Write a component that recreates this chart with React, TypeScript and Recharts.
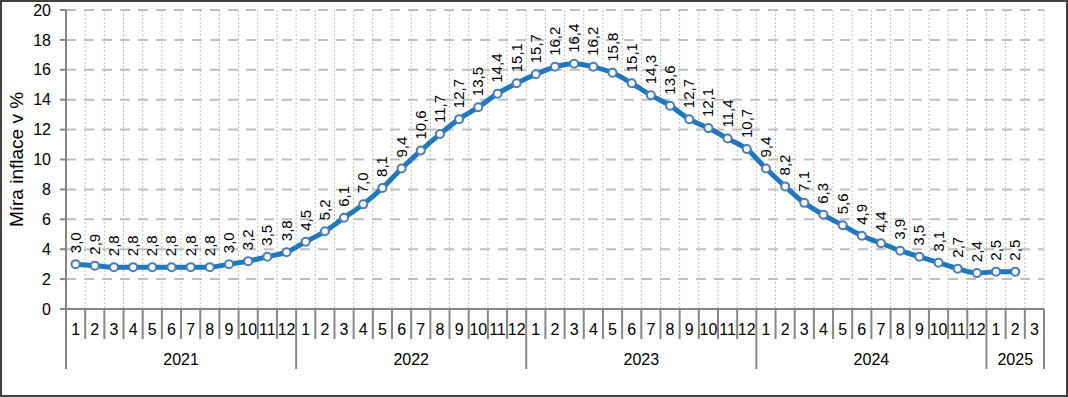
import React from 'react';
import {
    LineChart,
    Line,
    XAxis,
    YAxis,
    CartesianGrid,
    LabelList,
} from 'recharts';

const YEARS = ['2021', '2022', '2023', '2024', '2025'];
const MONTHS_IN_YEAR = [12, 12, 12, 12, 3];

const INFL_2021 = [3.0, 2.9, 2.8, 2.8, 2.8, 2.8, 2.8, 2.8, 3.0, 3.2, 3.5, 3.8];
const INFL_2022 = [4.5, 5.2, 6.1, 7.0, 8.1, 9.4, 10.6, 11.7, 12.7, 13.5, 14.4, 15.1];
const INFL_2023 = [15.7, 16.2, 16.4, 16.2, 15.8, 15.1, 14.3, 13.6, 12.7, 12.1, 11.4, 10.7];
const INFL_2024 = [9.4, 8.2, 7.1, 6.3, 5.6, 4.9, 4.4, 3.9, 3.5, 3.1, 2.7, 2.4];
const INFL_2025 = [2.5, 2.5, null];

const Y_TICKS = [0, 2, 4, 6, 8, 10, 12, 14, 16, 18, 20];

const SERIES = [INFL_2021, INFL_2022, INFL_2023, INFL_2024, INFL_2025];

type Row = {
    key: string;
    month: number;
    year: string;
    groupSize: number;
    value: number | null;
};

const rows: Row[] = YEARS.flatMap((year, yi) =>
    Array.from({ length: MONTHS_IN_YEAR[yi] }, (_, mi) => ({
        key: `${year}-${mi + 1}`,
        month: mi + 1,
        year,
        groupSize: MONTHS_IN_YEAR[yi],
        value: SERIES[yi][mi],
    }))
);

const CHART_W = 1064;
const CHART_H = 393;
const Y_AXIS_W = 64;
const RIGHT = 22;
const PLOT_W = CHART_W - Y_AXIS_W - RIGHT;
const BW = PLOT_W / rows.length;

const AXIS_GRAY = '#878787';
const GRID_GRAY = '#bfbfbf';
const FONT = '"Liberation Sans", Arial, sans-serif';

function MonthTick(props: any) {
    const { x, y, index } = props;
    const row = rows[index];
    if (!row) return null;
    const isLastOfGroup = row.month === row.groupSize;
    const right = x + BW / 2;
    const left = x - BW / 2;
    return (
        <g>
            <text x={x} y={y + 26} textAnchor="middle" fontSize={16} fill="#000" fontFamily={FONT}>
                {row.month}
            </text>
            <line
                x1={right}
                x2={right}
                y1={y}
                y2={y + (isLastOfGroup ? 60 : 30)}
                stroke={AXIS_GRAY}
                strokeWidth={2}
            />
            {row.month === 1 && (
                <>
                    {index === 0 && (
                        <line x1={left} x2={left} y1={y} y2={y + 60} stroke={AXIS_GRAY} strokeWidth={2} />
                    )}
                    <text
                        x={left + (row.groupSize * BW) / 2}
                        y={y + 56}
                        textAnchor="middle"
                        fontSize={16}
                        fill="#000"
                        fontFamily={FONT}
                    >
                        {row.year}
                    </text>
                </>
            )}
        </g>
    );
}

function ValueLabel(props: any) {
    const { x, y, value } = props;
    if (value == null) return null;
    const tx = x + 5;
    const ty = y - 11;
    return (
        <text
            x={tx}
            y={ty}
            transform={`rotate(-90 ${tx} ${ty})`}
            textAnchor="start"
            fontSize={15}
            fill="#000"
            fontFamily={FONT}
        >
            {Number(value).toFixed(1).replace('.', ',')}
        </text>
    );
}

function AxisTitle(props: any) {
    const { viewBox } = props;
    const cx = 14;
    const cy = viewBox.y + viewBox.height / 2;
    return (
        <text
            x={cx}
            y={cy}
            transform={`rotate(-90 ${cx} ${cy})`}
            textAnchor="middle"
            dominantBaseline="central"
            fontSize={19}
            fill="#000"
            fontFamily={FONT}
        >
            Míra inflace v %
        </text>
    );
}

export default function App() {
    return (
        <div
            style={{
                position: 'absolute',
                left: 0,
                top: 0,
                width: 1068,
                height: 397,
                boxSizing: 'border-box',
                border: '2px solid #404040',
                background: '#fff',
                fontFamily: FONT,
            }}
        >
            <LineChart
                width={CHART_W}
                height={CHART_H}
                data={rows}
                margin={{ top: 8, right: RIGHT, left: 0, bottom: 0 }}
            >
                <CartesianGrid
                    vertical={false}
                    stroke={GRID_GRAY}
                    strokeWidth={2}
                    strokeDasharray="10 8"
                />
                <CartesianGrid
                    horizontal={false}
                    stroke={GRID_GRAY}
                    strokeDasharray="2 2"
                    verticalCoordinatesGenerator={({ offset }: any) =>
                        rows.map((_, i) => offset.left + (i + 1) * BW)
                    }
                />
                <XAxis
                    dataKey="key"
                    height={86}
                    interval={0}
                    padding={{ left: BW / 2, right: BW / 2 }}
                    tickSize={0}
                    tickMargin={0}
                    tickLine={false}
                    axisLine={{ stroke: AXIS_GRAY, strokeWidth: 2 }}
                    tick={<MonthTick />}
                />
                <YAxis
                    width={Y_AXIS_W}
                    domain={[0, 20]}
                    ticks={Y_TICKS}
                    interval={0}
                    tickSize={6}
                    tickMargin={9}
                    tickLine={{ stroke: AXIS_GRAY, strokeWidth: 2 }}
                    axisLine={{ stroke: AXIS_GRAY, strokeWidth: 2 }}
                    tick={{ fontSize: 16, fill: '#000', fontFamily: FONT }}
                    label={<AxisTitle />}
                />
                <Line
                    type="monotone"
                    dataKey="value"
                    stroke="#1d78be"
                    strokeWidth={5}
                    dot={{ r: 4, fill: '#fff', stroke: '#4a7ebb', strokeWidth: 2 }}
                    activeDot={false}
                    isAnimationActive={false}
                    connectNulls={false}
                >
                    <LabelList dataKey="value" content={<ValueLabel />} />
                </Line>
            </LineChart>
        </div>
    );
}
